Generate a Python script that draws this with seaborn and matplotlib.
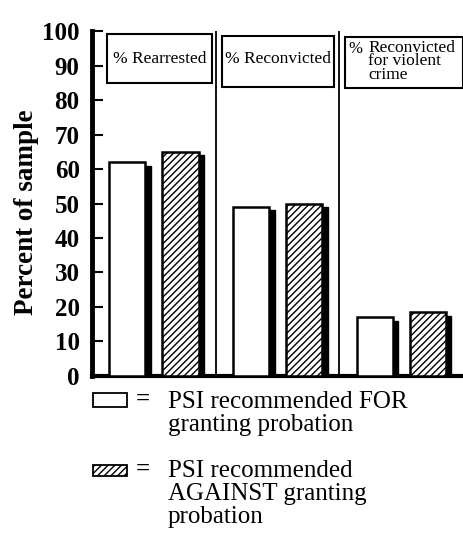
import matplotlib
matplotlib.use("Agg")
import matplotlib.pyplot as plt
import seaborn as sns
import pandas as pd
from matplotlib.patches import Rectangle
from matplotlib.transforms import ScaledTranslation

# ---- data ----
categories = ["% Rearrested", "% Reconvicted", "% Reconvicted for violent crime"]
panel_titles = ["% Rearrested", "% Reconvicted", "Reconvicted\nfor violent\ncrime"]
groups = ["PSI recommended FOR\ngranting probation",
          "PSI recommended\nAGAINST granting\nprobation"]
for_values = [62, 49, 17]
against_values = [65, 50, 18.5]
yticks = [0, 10, 20, 30, 40, 50, 60, 70, 80, 90, 100]
ylabel = "Percent of sample"

df = pd.DataFrame({
    "category": categories * 2,
    "group": [groups[0]] * len(categories) + [groups[1]] * len(categories),
    "value": for_values + against_values,
})

sns.set_style("white")
plt.rcParams["font.family"] = ["Liberation Serif", "DejaVu Serif"]
plt.rcParams["text.color"] = "black"
plt.rcParams["axes.labelcolor"] = "black"
plt.rcParams["ytick.color"] = "black"
plt.rcParams["hatch.linewidth"] = 1.0
plt.rcParams["hatch.color"] = "black"

fig = plt.figure(figsize=(4.63, 5.37), dpi=100)
ax = fig.add_axes([0.199, 0.30, 0.801, 0.642])

sns.barplot(data=df, x="category", y="value", hue="group",
            order=categories, hue_order=groups,
            palette=["white", "white"], saturation=1,
            width=0.86, gap=0.32, edgecolor="black", linewidth=1.8,
            legend=False, ax=ax, zorder=3)

for bar in ax.containers[1]:
    bar.set_hatch("/////")

# drop shadows derived from the bars
shadow_tf = ax.transData + ScaledTranslation(4 / 72, -2.5 / 72, fig.dpi_scale_trans)
for cont in ax.containers:
    for bar in cont:
        ax.add_patch(Rectangle(bar.get_xy(), bar.get_width(), bar.get_height(),
                               transform=shadow_tf, facecolor="black",
                               edgecolor="black", zorder=2))

ax.set_xlim(-0.5, len(categories) - 0.5)
ax.set_ylim(0, 100)
ax.set_xticks([])
ax.set_xlabel("")
ax.set_yticks(yticks)
ax.set_yticklabels([str(t) for t in yticks], fontweight="bold", fontsize=18)
ax.tick_params(axis="y", left=True, direction="in", length=8, width=1.5, pad=9)
ax.set_ylabel(ylabel, fontsize=19.5, fontweight="bold")
ax.yaxis.set_label_coords(-0.143, 0.475)

for s in ["top", "right"]:
    ax.spines[s].set_visible(False)
ax.spines["left"].set_linewidth(3.5)
ax.spines["bottom"].set_linewidth(3)
ax.spines["left"].set_color("black")
ax.spines["bottom"].set_color("black")

# panel separators
for i in range(len(categories) - 1):
    ax.axvline(i + 0.5, color="black", lw=1.3, zorder=4)

# panel title boxes (x offsets relative to category index, y in data units)
box_x0 = [-0.38, -0.45, -0.455]
box_x1 = [0.47, 0.455, 0.5]
box_y0 = [84.9, 83.8, 83.5]
box_y1 = [99.1, 98.6, 98.3]
for i, title in enumerate(panel_titles):
    x0, x1 = i + box_x0[i], i + box_x1[i]
    ax.add_patch(Rectangle((x0, box_y0[i]), x1 - x0, box_y1[i] - box_y0[i],
                           facecolor="white", edgecolor="black", lw=1.5,
                           zorder=5, clip_on=False))
    if i < 2:
        ax.text((x0 + x1) / 2, 91.8, title, ha="center", va="center",
                fontsize=12.5, zorder=6)
    else:
        ax.text(x0 + 0.03, 97.0, "%", ha="left", va="top", fontsize=12, zorder=6)
        ax.text(x0 + 0.19, 97.4, title, ha="left", va="top", fontsize=12.5,
                linespacing=0.78, zorder=6)

# legend (manual)
W, H = 463, 537
def fx(px):
    return px / W
def fy(py):
    return 1 - py / H

fig.add_artist(Rectangle((fx(93), fy(407)), fx(127) - fx(93), 14 / H,
                         transform=fig.transFigure, facecolor="white",
                         edgecolor="black", lw=1.3))
fig.add_artist(Rectangle((fx(93), fy(476)), fx(127) - fx(93), 11 / H,
                         transform=fig.transFigure, facecolor="white",
                         edgecolor="black", lw=1.3, hatch="/////"))
fig.text(fx(136), fy(406), "=", fontsize=18, va="baseline", fontweight="bold")
fig.text(fx(136), fy(476), "=", fontsize=18, va="baseline", fontweight="bold")
fig.text(fx(168), fy(391), groups[0], fontsize=18, va="top", linespacing=1.06)
fig.text(fx(168), fy(460), groups[1], fontsize=18, va="top", linespacing=1.06)

fig.savefig("out.png", dpi=100)
